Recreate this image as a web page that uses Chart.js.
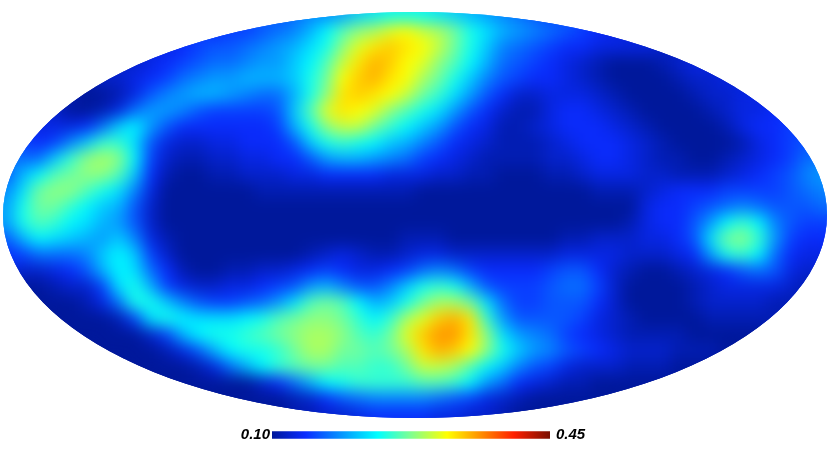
<!DOCTYPE html>
<html>
<head>
<meta charset="utf-8">
<title>Sky map</title>
<script src="https://cdn.jsdelivr.net/npm/chart.js@4"></script>
<style>
  html, body { margin: 0; padding: 0; background: #fff; }
  #wrap { position: relative; width: 830px; height: 469px; overflow: hidden; }
  #map { position: absolute; left: 0; top: 0; }
  #bar { position: absolute; left: 230px; top: 415px; }
</style>
</head>
<body>
<div id="wrap">
  <canvas id="map" width="830" height="469"></canvas>
  <canvas id="bar" width="370" height="40"></canvas>
</div>
<script>
// Valores, em centésimos (13 = 0.13). Cada linha é uma faixa do mapa.
const rowStarts = [17,13,10,8,6,4,3,2,1,1,0,0,0,0,0,0,1,1,2,3,4,6,8,10,13,17];
const row00 = [16,17,18,18,19,21,22,23,23,23,22,21,20,19,18,17,16,15];
const row01 = [14,15,15,16,17,18,20,23,26,28,29,31,32,30,29,27,24,22,20,19,18,17,16,15,14,13];
const row02 = [13,14,15,16,16,17,18,19,20,22,24,28,31,33,34,33,32,30,27,24,21,18,17,16,15,14,14,13,13,13,13,12];
const row03 = [12,13,14,15,16,17,17,18,19,19,21,23,26,30,33,35,34,32,31,28,26,23,20,17,16,15,14,13,12,11,10,10,10,11,12,13,13];
const row04 = [12,12,13,14,15,17,18,19,19,20,20,20,21,24,27,32,34,35,33,32,29,27,24,21,18,16,15,14,14,13,12,11,10,10,10,10,11,12,12,13];
const row05 = [11,10,10,11,13,16,18,19,20,20,19,18,17,17,20,24,28,33,34,33,32,30,27,25,22,19,16,14,12,12,13,13,13,12,11,10,10,10,10,11,12,12,13,13];
const row06 = [12,10,10,11,13,17,19,19,18,16,15,15,15,15,16,21,26,31,33,32,31,28,26,24,22,19,16,14,12,11,11,13,14,14,13,12,11,10,10,10,10,11,12,13,13,14];
const row07 = [13,13,13,14,17,21,23,19,16,14,14,14,14,14,14,15,20,24,28,30,30,27,25,23,21,19,16,14,13,11,11,12,13,14,14,14,13,12,11,10,10,10,10,11,13,14,14,15];
const row08 = [15,14,15,18,21,25,25,22,16,13,12,12,13,13,14,14,14,16,21,24,25,24,23,21,20,18,16,14,13,12,11,11,11,12,13,14,14,14,13,12,11,10,10,10,10,11,13,14,15,16];
const row09 = [17,17,21,25,28,29,28,23,15,12,11,11,12,12,13,13,14,14,16,19,20,20,19,18,17,15,14,13,12,11,11,11,11,12,12,13,14,14,13,12,11,11,10,10,11,12,13,14,15,17];
const row10 = [16,20,23,26,27,28,28,26,21,14,11,10,10,11,11,12,12,12,13,13,14,14,14,14,13,13,13,12,12,11,11,10,10,10,11,11,12,13,13,13,12,12,11,11,11,12,13,14,15,16,18,19];
const row11 = [18,22,27,28,28,26,24,22,18,13,10,10,10,10,10,10,11,11,11,11,11,11,11,11,11,11,10,10,10,10,10,10,10,10,10,10,10,11,11,11,12,13,14,14,14,15,15,15,15,16,17,18];
const row12 = [19,24,27,27,25,23,21,20,16,12,10,10,10,10,10,10,10,10,10,10,10,10,10,10,10,10,10,10,10,10,10,10,10,10,10,10,10,10,10,10,13,14,14,15,16,17,18,17,16,16,16,17];
const row13 = [19,24,26,25,23,22,20,19,16,12,10,10,10,10,10,10,10,10,10,10,10,10,10,10,10,10,10,10,10,10,10,10,10,10,10,10,10,10,10,11,13,14,14,16,19,23,25,23,18,16,15,15];
const row14 = [16,20,23,22,21,20,19,21,18,13,11,10,10,10,10,10,10,10,10,10,10,10,10,10,10,11,11,11,10,10,10,10,10,10,10,11,11,12,12,12,13,13,14,16,22,27,28,25,19,15,14,14];
const row15 = [14,15,17,17,17,18,21,23,21,15,12,10,10,10,10,10,10,10,10,11,12,13,12,11,11,12,13,13,12,12,12,12,12,12,12,13,13,13,13,12,12,12,13,14,19,24,25,23,17,14,13,13];
const row16 = [12,12,13,14,16,20,23,22,17,14,11,10,10,11,11,12,12,13,14,15,14,13,13,14,15,17,18,17,15,14,14,14,14,15,16,16,14,12,11,10,10,11,12,13,14,16,17,16,13,12];
const row17 = [10,10,11,12,12,15,22,24,20,15,13,12,12,13,13,14,15,16,19,20,18,16,16,18,21,24,25,24,20,16,15,15,15,16,17,17,15,12,10,10,10,10,11,12,13,13,13,13,12,11];
const row18 = [10,10,10,11,13,17,24,24,21,18,16,15,15,16,17,19,22,26,27,26,23,20,21,24,27,29,29,27,22,17,15,15,16,16,16,14,12,10,10,10,10,11,12,12,12,12,11,11];
const row19 = [10,10,10,10,11,15,22,24,23,22,22,22,23,24,26,27,28,28,27,25,23,25,29,31,34,35,33,25,19,16,16,16,16,15,13,12,11,10,10,10,10,11,11,11,11,11];
const row20 = [10,10,10,10,10,12,15,20,23,24,24,25,26,27,28,29,29,28,26,25,27,31,34,36,36,33,28,22,19,18,17,15,14,13,12,11,11,11,11,10,10,10,10,10];
const row21 = [10,10,10,10,11,13,16,20,23,24,24,25,27,29,29,27,27,26,27,29,33,35,34,32,28,24,21,19,18,16,15,14,13,12,12,12,11,11,11,10];
const row22 = [10,10,10,10,11,13,17,20,23,25,26,27,27,26,26,25,25,27,30,30,29,26,23,21,18,16,15,13,12,12,12,11,11,11,10,10,10];
const row23 = [10,10,10,10,10,10,12,14,17,20,23,24,25,25,25,25,26,26,25,23,19,17,14,13,12,11,11,10,10,10,10,10];
const row24 = [10,10,10,10,10,11,12,14,16,17,18,18,18,18,17,16,15,13,12,11,10,10,10,10,10,10];
const row25 = [10,11,11,12,12,13,14,14,14,14,13,13,12,12,11,10,10,10];
const mapRows = [row00,row01,row02,row03,row04,row05,row06,row07,row08,row09,row10,row11,row12,
                 row13,row14,row15,row16,row17,row18,row19,row20,row21,row22,row23,row24,row25];

const tickLabels = ['0.10', '0.45'];
const scaleMin = 0.10;
const scaleMax = 0.45;

// Paleta da barra de cores
const colorPositions = [0, 0.12, 0.38, 0.5, 0.63, 0.87, 1];
const colorValues = [[0,24,155], [10,44,255], [0,255,255], [128,255,144], [255,255,0], [255,32,0], [122,15,0]];

function colorFor(v) {
    const t = Math.min(1, Math.max(0, (v - scaleMin) / (scaleMax - scaleMin)));
    let k = 0;
    while (k < colorPositions.length - 2 && t > colorPositions[k + 1]) k++;
    const f = (t - colorPositions[k]) / (colorPositions[k + 1] - colorPositions[k]);
    const a = colorValues[k], b = colorValues[k + 1];
    return 'rgb(' + a.map((c, n) => Math.round(c + (b[n] - c) * f)).join(',') + ')';
}

// Grade regular no plano da projeção: -1..1 nos dois eixos
const gridCols = 51.5, gridRows = 25.375;
const cells = [];
mapRows.forEach((row, j) => {
    row.forEach((value, n) => {
        const i = rowStarts[j] + n;
        cells.push({ x: (i - 25.5) * 2 / gridCols, y: (12.5 - j) * 2 / gridRows, v: value / 100 });
    });
});

// Suaviza as células e recorta a elipse da projeção
const smoothEllipse = {
    id: 'smoothEllipse',
    afterDatasetsDraw(chart) {
        const { ctx, canvas, scales } = chart;
        const off = document.createElement('canvas');
        off.width = canvas.width;
        off.height = canvas.height;
        off.getContext('2d').drawImage(canvas, 0, 0);
        const cx = scales.x.getPixelForValue(0), cy = scales.y.getPixelForValue(0);
        const rx = scales.x.getPixelForValue(1) - cx, ry = cy - scales.y.getPixelForValue(1);
        ctx.save();
        ctx.clearRect(0, 0, canvas.width, canvas.height);
        ctx.beginPath();
        ctx.ellipse(cx, cy, rx, ry, 0, 0, Math.PI * 2);
        ctx.clip();
        ctx.drawImage(off, 0, 0);
        ctx.filter = 'blur(12px)';
        ctx.drawImage(off, 0, 0);
        ctx.filter = 'blur(8px)';
        ctx.drawImage(off, 0, 0);
        ctx.restore();
    }
};

new Chart(document.getElementById('map'), {
    type: 'scatter',
    data: {
        datasets: [{
            data: cells,
            clip: false,
            pointStyle: 'rect',
            borderWidth: 0,
            backgroundColor: c => colorFor(c.raw.v),
            pointRadius: c => (c.chart.width - 6) / gridCols * 0.75
        }]
    },
    options: {
        responsive: false,
        animation: false,
        events: [],
        layout: { autoPadding: false, padding: { left: 3, right: 3, top: 12, bottom: 51 } },
        plugins: { legend: { display: false }, tooltip: { enabled: false } },
        scales: {
            x: { type: 'linear', min: -1, max: 1, display: false },
            y: { type: 'linear', min: -1, max: 1, display: false }
        }
    },
    plugins: [smoothEllipse]
});

const barFont = { family: '"Liberation Sans"', size: 15, style: 'italic', weight: 'bold' };
new Chart(document.getElementById('bar'), {
    type: 'bar',
    data: {
        labels: [tickLabels[0]],
        datasets: [{
            data: [[scaleMin, scaleMax]],
            barThickness: 7,
            borderWidth: 0,
            backgroundColor: c => {
                const a = c.chart.chartArea;
                if (!a) return '#00f';
                const g = c.chart.ctx.createLinearGradient(a.left, 0, a.right, 0);
                colorPositions.forEach((p, k) => g.addColorStop(p, 'rgb(' + colorValues[k].join(',') + ')'));
                return g;
            }
        }]
    },
    options: {
        indexAxis: 'y',
        responsive: false,
        animation: false,
        events: [],
        layout: { autoPadding: false, padding: { top: 0, bottom: 1, left: 0, right: 0 } },
        plugins: { legend: { display: false }, tooltip: { enabled: false } },
        scales: {
            x: { type: 'linear', min: scaleMin, max: scaleMax, display: false },
            y: {
                type: 'category',
                position: 'left',
                grid: { display: false, drawTicks: false },
                border: { display: false },
                ticks: { color: '#000', font: barFont, padding: 2 },
                afterFit: s => { s.width = 42; }
            },
            y2: {
                type: 'category',
                position: 'right',
                labels: [tickLabels[1]],
                grid: { display: false, drawTicks: false },
                border: { display: false },
                ticks: { color: '#000', font: barFont, padding: 6 },
                afterFit: s => { s.width = 50; }
            }
        }
    }
});
</script>
</body>
</html>
